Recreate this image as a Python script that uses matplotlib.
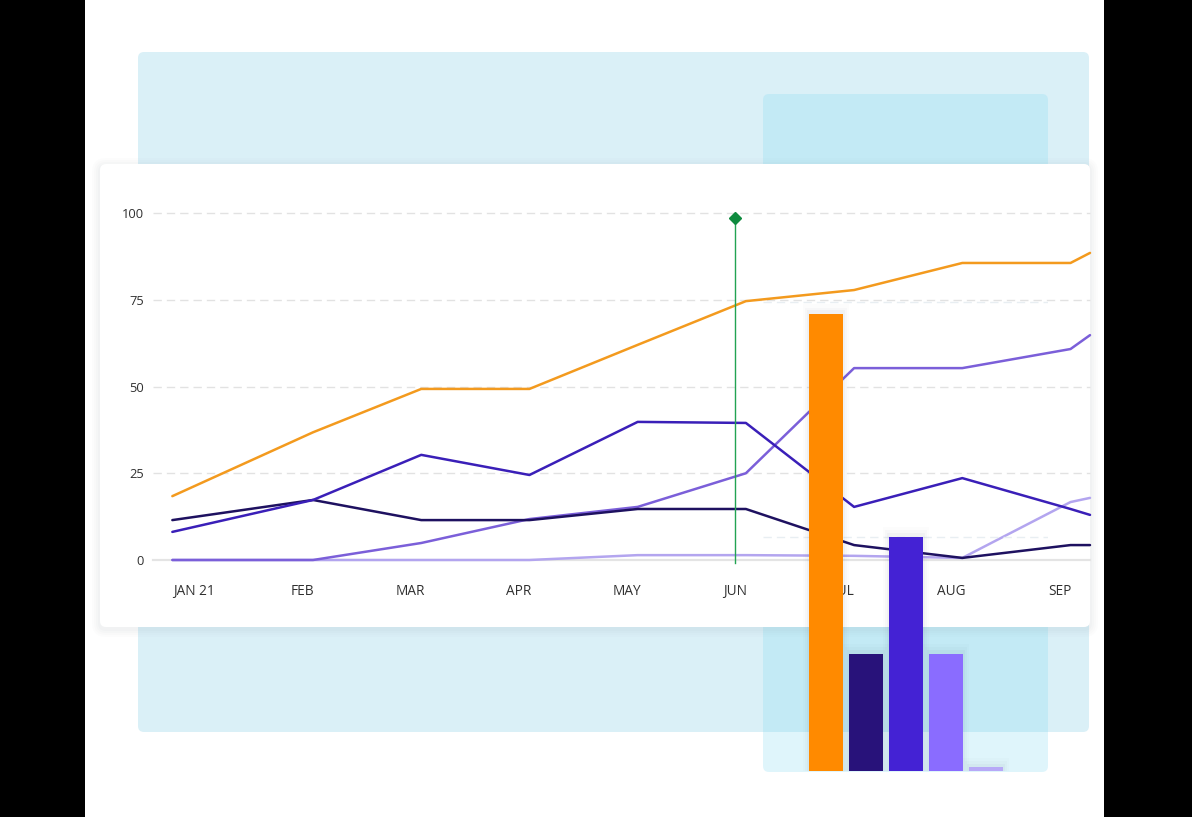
import matplotlib.pyplot as plt
from matplotlib.patches import FancyBboxPatch, Rectangle

W, H = 1192, 817

# line chart data (x in months from JAN 21, values 0-100)
months = ["JAN 21", "FEB", "MAR", "APR", "MAY", "JUN", "JUL", "AUG", "SEP"]
x_pts = [-0.2, 1.1, 2.1, 3.1, 4.1, 5.1, 6.1, 7.1, 8.1, 8.28]
orange = [18.4, 36.8, 49.3, 49.3, 62.0, 74.6, 77.8, 85.6, 85.6, 88.5]
navy = [11.5, 17.3, 11.5, 11.5, 14.7, 14.7, 4.3, 0.6, 4.3, 4.3]
blue = [8.1, 17.3, 30.3, 24.5, 39.8, 39.5, 15.3, 23.6, 14.7, 13.0]
purple = [0.0, 0.0, 4.9, 11.8, 15.3, 25.0, 55.3, 55.3, 60.8, 64.8]
lavender = [0.0, 0.0, 0.0, 0.0, 1.4, 1.4, 1.2, 0.6, 16.7, 17.9]
marker_month = 5
marker_value = 98.5

# bar chart data
bar_values = [78, 20, 40, 20, 0.6]
bar_colors = ["#ff8a00", "#28127a", "#4422d4", "#8a6cff", "#b7a9f7"]


def px_rect(x0, y0, x1, y1):
    # pixel box (top-left origin) -> figure fraction [l, b, w, h]
    return [x0 / W, 1 - y1 / H, (x1 - x0) / W, (y1 - y0) / H]


def rbox(x0, y0, x1, y1, color, z, r=6, alpha=1.0):
    l, b, w, h = px_rect(x0, y0, x1, y1)
    p = FancyBboxPatch((l, b), w, h, boxstyle=f"round,pad=0,rounding_size={r / W}",
                       transform=fig.transFigure, facecolor=color, edgecolor="none",
                       alpha=alpha, zorder=z, mutation_aspect=W / H)
    fig.patches.append(p)


fig = plt.figure(figsize=(W / 100, H / 100), dpi=100)
fig.patch.set_facecolor("white")

# black side bands
fig.patches.append(Rectangle((0, 0), 85 / W, 1, transform=fig.transFigure,
                             facecolor="black", edgecolor="none", zorder=0))
fig.patches.append(Rectangle((1104 / W, 0), 1 - 1104 / W, 1, transform=fig.transFigure,
                             facecolor="black", edgecolor="none", zorder=0))

# background panels
rbox(138, 52, 1089, 732, "#daf0f7", 1)
rbox(763, 94, 1048, 772, (128 / 255, 218 / 255, 243 / 255), 2, alpha=0.25)

# card shadow + card
for i, a in enumerate([0.025, 0.025, 0.03, 0.035]):
    g = 8 - 2 * i
    rbox(100 - g, 164 - g + 2, 1090 + g, 627 + g + 2, "#8a9aa5", 3, r=6 + g, alpha=a)
rbox(100, 164, 1090, 627, "white", 4)

# line chart
ax = fig.add_axes(px_rect(160, 213, 1090, 560))
ax.set_zorder(5)
ax.patch.set_alpha(0)
x_left = (160 - 194) / 108.25
ax.set_xlim(x_left, 8.28)
ax.set_ylim(0, 100)
for s in ax.spines.values():
    s.set_visible(False)

for v in [25, 50, 75, 100]:
    ax.axhline(v, xmin=-0.007, color="#e2e2e2", lw=1, dashes=(6, 3.6), zorder=1, clip_on=False)
ax.axhline(0, xmin=-0.007, color="#e4e4e4", lw=1.6, zorder=1, clip_on=False)

kw = dict(lw=1.8, solid_joinstyle="round", solid_capstyle="round", clip_on=False)
ax.plot(x_pts, lavender, color="#b3a5ef", zorder=2, **kw)
ax.plot(x_pts, purple, color="#7b5fd9", zorder=3, **kw)
ax.plot(x_pts, navy, color="#1e1160", zorder=3, **kw)
ax.plot(x_pts, blue, color="#3a1fb8", zorder=4, **kw)
ax.plot(x_pts, orange, color="#f39a1e", zorder=4, **kw)

ax.plot([marker_month, marker_month], [-1, marker_value], color="#22a352", lw=1, zorder=5, clip_on=False)
ax.plot([marker_month], [marker_value], marker="D", ms=6.5, color="#0e8a3e", zorder=6, clip_on=False)

ax.set_yticks([0, 25, 50, 75, 100])
ax.set_xticks(range(len(months)))
ax.set_xticklabels(months)
ax.tick_params(axis="y", length=0, pad=11.5, labelsize=9.3, labelcolor="#303030")
ax.tick_params(axis="x", length=0, pad=17, labelsize=9.8, labelcolor="#303030")
for t in ax.get_xticklabels() + ax.get_yticklabels():
    t.set_fontfamily("Open Sans")
    t.set_fontweight("medium")

# bar chart overlay
bx = fig.add_axes(px_rect(763, 94, 1048, 771))
bx.set_zorder(6)
bx.patch.set_alpha(0)
bx.axis("off")
bx.set_xlim((763 - 826) / 40, (1048 - 826) / 40)
bx.set_ylim(0, (771 - 94) / 5.86)
for v in [40, 80]:
    bx.axhline(v, xmin=0, xmax=1, color="#e8eef2", lw=1, dashes=(6, 3.6), zorder=0)
pos = list(range(len(bar_values)))
for d, a in [(0.14, 0.015), (0.09, 0.025), (0.05, 0.035)]:
    bx.bar(pos, [v + d * 12 for v in bar_values], width=0.85 + d * 2,
           color="#40506a", alpha=a, zorder=1, linewidth=0)
bx.bar(pos, bar_values, width=0.85, color=bar_colors, zorder=2, linewidth=0)

fig.savefig("out.png", dpi=100)
